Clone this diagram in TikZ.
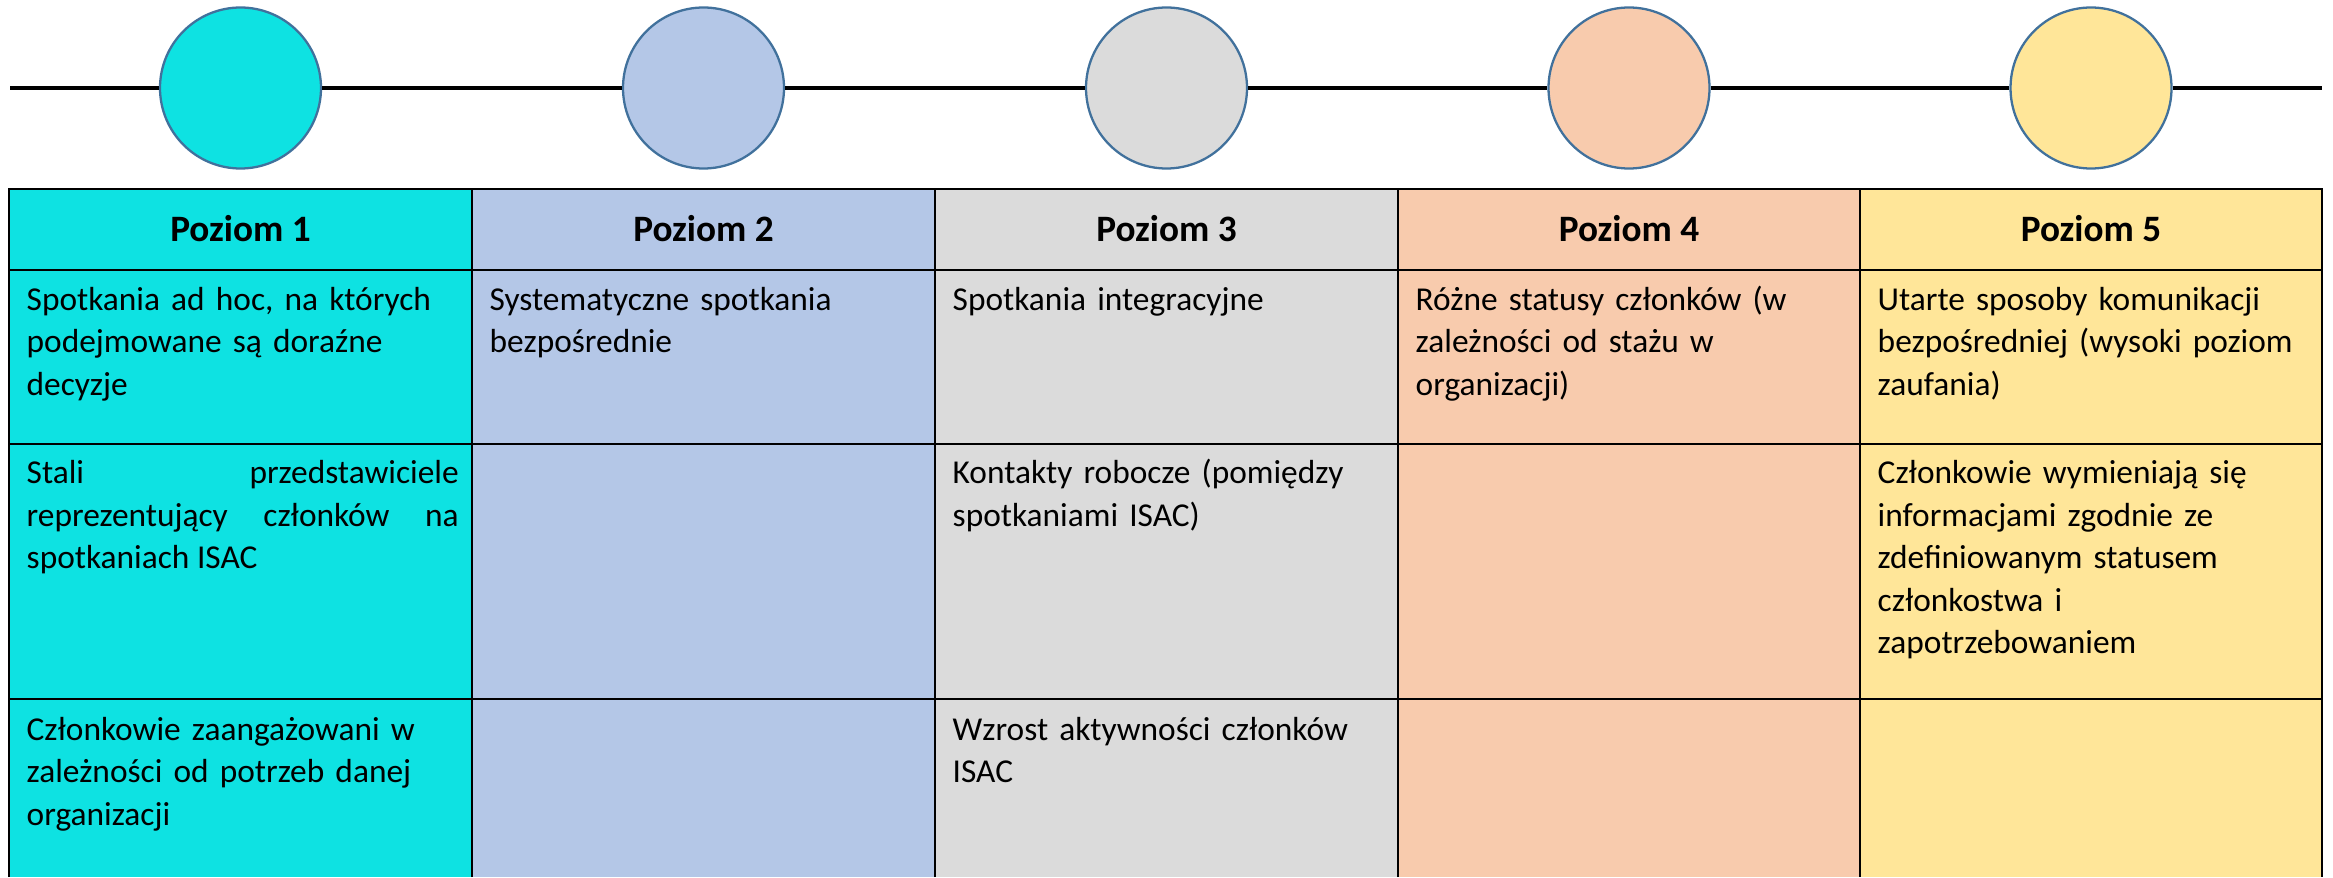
\documentclass[tikz,border=0pt]{standalone}
\usepackage{fontspec}
\setmainfont{Carlito}
\usepackage{xcolor}
\definecolor{lvla}{HTML}{0EE2E2}
\definecolor{lvlb}{HTML}{B4C7E7}
\definecolor{lvlc}{HTML}{DBDBDB}
\definecolor{lvld}{HTML}{F8CBAD}
\definecolor{lvle}{HTML}{FFE699}
\definecolor{ring}{HTML}{41719C}
\newcommand{\cellfont}{\fontsize{9.5pt}{12.1pt}\selectfont}
\newcommand{\headfont}{\fontsize{10.6pt}{12.1pt}\selectfont\bfseries}

\begin{document}
\begin{tikzpicture}[every node/.style={inner sep=0pt,font=\cellfont},
  lvl/.style={circle,draw=ring,line width=0.65pt,minimum size=1.61cm},
  head/.style={anchor=base,font=\headfont},
  txt/.style={anchor=base west,text width=4.32cm,align=left}]
  \useasboundingbox (0,0) rectangle (23.33,8.77);

  % timeline
  \coordinate (s) at (0.10,7.89);
  \coordinate (e) at (23.22,7.89);
  \node[lvl,fill=lvla] (c1) at (2.405,7.89) {};
  \node[lvl,fill=lvlb] (c2) at (7.035,7.89) {};
  \node[lvl,fill=lvlc] (c3) at (11.665,7.89) {};
  \node[lvl,fill=lvld] (c4) at (16.29,7.89) {};
  \node[lvl,fill=lvle] (c5) at (20.91,7.89) {};
  \draw[line width=1.1pt] (s) -- (c1) -- (c2) -- (c3) -- (c4) -- (c5) -- (e);

  % columns
  \fill[lvla] (0.09,0) rectangle (4.72,6.88);
  \fill[lvlb] (4.72,0) rectangle (9.35,6.88);
  \fill[lvlc] (9.35,0) rectangle (13.98,6.88);
  \fill[lvld] (13.98,0) rectangle (18.60,6.88);
  \fill[lvle] (18.60,0) rectangle (23.22,6.88);

  % grid
  \draw[line width=0.7pt] (0.09,0) -- (0.09,6.88) -- (23.22,6.88) -- (23.22,0);
  \draw[line width=0.7pt] (0.09,6.07) -- (23.22,6.07);
  \draw[line width=0.7pt] (0.09,4.33) -- (23.22,4.33);
  \draw[line width=0.7pt] (0.09,1.78) -- (23.22,1.78);
  \draw[line width=0.7pt] (4.72,0) -- (4.72,6.88);
  \draw[line width=0.7pt] (9.35,0) -- (9.35,6.88);
  \draw[line width=0.7pt] (13.98,0) -- (13.98,6.88);
  \draw[line width=0.7pt] (18.60,0) -- (18.60,6.88);

  % headers
  \node[head] (h1) at (2.405,6.35) {Poziom 1};
  \node[head] (h2) at (7.035,6.35) {Poziom 2};
  \node[head] (h3) at (11.665,6.35) {Poziom 3};
  \node[head] (h4) at (16.29,6.35) {Poziom 4};
  \node[head] (h5) at (20.91,6.35) {Poziom 5};

  % cells
  \node[txt] (t11) at (0.26,5.67) {Spotkania ad hoc, na których\\podejmowane są doraźne\\decyzje};
  \node[txt,align=justify] (t12) at (0.26,3.935) {Stali przedstawiciele\linebreak reprezentujący członków na\linebreak spotkaniach ISAC};
  \node[txt] (t13) at (0.26,1.37) {Członkowie zaangażowani w\\zależności od potrzeb danej\\organizacji};
  \node[txt] (t21) at (4.89,5.67) {Systematyczne spotkania\\bezpośrednie};
  \node[txt] (t31) at (9.52,5.67) {Spotkania integracyjne};
  \node[txt] (t32) at (9.52,3.935) {Kontakty robocze (pomiędzy\\spotkaniami ISAC)};
  \node[txt] (t33) at (9.52,1.37) {Wzrost aktywności członków\\ISAC};
  \node[txt] (t41) at (14.15,5.67) {Różne statusy członków (w\\zależności od stażu w\\organizacji)};
  \node[txt] (t51) at (18.77,5.67) {Utarte sposoby komunikacji\\bezpośredniej (wysoki poziom\\zaufania)};
  \node[txt] (t52) at (18.77,3.935) {Członkowie wymieniają się\\informacjami zgodnie ze\\zdefiniowanym statusem\\członkostwa i\\zapotrzebowaniem};
\end{tikzpicture}
\end{document}
